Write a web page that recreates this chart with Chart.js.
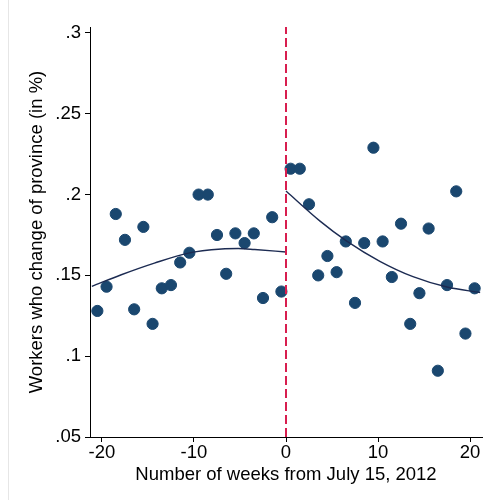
<!DOCTYPE html>
<html>
<head>
<meta charset="utf-8">
<script src="https://cdn.jsdelivr.net/npm/chart.js@4/dist/chart.umd.min.js"></script>
<style>
  html, body { margin:0; padding:0; background:#fff; }
  #wrap { width:493px; height:500px; }
</style>
</head>
<body>
<div id="wrap"><canvas id="c" width="493" height="500"></canvas></div>
<script>
// ── Data ──────────────────────────────────────────────
const leftWeeks  = [-20.5,-19.5,-18.5,-17.5,-16.5,-15.5,-14.5,-13.5,-12.5,-11.5,-10.5,-9.5,-8.5,-7.5,-6.5,-5.5,-4.5,-3.5,-2.5,-1.5,-0.5];
const leftShare  = [0.128,0.143,0.188,0.172,0.129,0.180,0.120,0.142,0.144,0.158,0.164,0.200,0.200,0.175,0.151,0.176,0.170,0.176,0.136,0.186,0.140];
const rightWeeks = [0.5,1.5,2.5,3.5,4.5,5.5,6.5,7.5,8.5,9.5,10.5,11.5,12.5,13.5,14.5,15.5,16.5,17.5,18.5,19.5,20.5];
const rightShare = [0.216,0.216,0.194,0.150,0.162,0.152,0.171,0.133,0.170,0.229,0.171,0.149,0.182,0.120,0.139,0.179,0.091,0.144,0.202,0.114,0.142];

// quadratic fit lines
const fitLeftX  = [-21.1,-17.9,-14.3,-10.6,-7.0,-5.2,-3.4,0];
const fitLeftY  = [0.1432,0.1504,0.1576,0.1638,0.1663,0.1666,0.1660,0.1645];
const fitRightX = [0,3.7,6.6,10.2,13.8,17.5,21.1];
const fitRightY = [0.2022,0.1836,0.1712,0.1587,0.1492,0.1428,0.1394];

const cutoffWeek = 0;
const xTicks = [-20,-10,0,10,20];
const yTicks = [0.05,0.1,0.15,0.2,0.25,0.3];

const X_MIN = -21.3, X_MAX = 21.3, Y_MIN = 0.05, Y_MAX = 0.3037;

const pts = (xs, ys) => xs.map((x,i) => ({ x, y: ys[i] }));
const fmtY = v => String(+v.toFixed(2)).replace(/^0/, '');

const FONT = { family: '"Liberation Sans", Arial, sans-serif', size: 18.5 };

// faint frame edge seen at the left of the reference
const frameEdge = {
    id: 'frameEdge',
    beforeDraw(chart) {
        const ctx = chart.ctx;
        ctx.save();
        ctx.strokeStyle = '#e6e6e6';
        ctx.lineWidth = 1;
        ctx.beginPath();
        ctx.moveTo(8.5, 0); ctx.lineTo(8.5, 500);
        ctx.stroke();
        ctx.restore();
    }
};

new Chart(document.getElementById('c'), {
    data: {
        datasets: [
            {
                type: 'line', label: 'fit left',
                data: pts(fitLeftX, fitLeftY),
                borderColor: '#1c2b52', borderWidth: 1.4,
                pointRadius: 0, cubicInterpolationMode: 'monotone', fill: false, order: 1
            },
            {
                type: 'line', label: 'fit right',
                data: pts(fitRightX, fitRightY),
                borderColor: '#1c2b52', borderWidth: 1.4,
                pointRadius: 0, cubicInterpolationMode: 'monotone', fill: false, order: 1
            },
            {
                type: 'scatter', label: 'before',
                data: pts(leftWeeks, leftShare),
                backgroundColor: '#1a476f', borderColor: '#1a476f',
                pointRadius: 5.6, pointHoverRadius: 5.6, order: 2
            },
            {
                type: 'scatter', label: 'after',
                data: pts(rightWeeks, rightShare),
                backgroundColor: '#1a476f', borderColor: '#1a476f',
                pointRadius: 5.6, pointHoverRadius: 5.6, order: 2
            },
            {
                type: 'line', label: 'cutoff',
                data: [{ x: cutoffWeek, y: Y_MIN }, { x: cutoffWeek, y: Y_MAX }],
                borderColor: '#d81e4f', borderWidth: 2, borderDash: [9, 4],
                pointRadius: 0, order: 0
            }
        ]
    },
    options: {
        responsive: false,
        animation: false,
        events: [],
        layout: { padding: { left: 26, right: 11, top: 27, bottom: 14 } },
        plugins: { legend: { display: false }, tooltip: { enabled: false } },
        scales: {
            x: {
                type: 'linear', min: X_MIN, max: X_MAX,
                afterBuildTicks: s => { s.ticks = xTicks.map(v => ({ value: v })); },
                afterFit: s => { s.height = 49; },
                grid: { display: true, drawOnChartArea: false, color: '#000', tickLength: 5 },
                border: { display: true, color: '#000', width: 1 },
                ticks: { color: '#000', font: FONT, padding: 0, maxRotation: 0 },
                title: { display: true, text: 'Number of weeks from July 15, 2012',
                         color: '#000', font: FONT, padding: 0 }
            },
            y: {
                type: 'linear', min: Y_MIN, max: Y_MAX,
                afterBuildTicks: s => { s.ticks = yTicks.map(v => ({ value: v })); },
                afterFit: s => { s.width = 64; },
                grid: { display: true, drawOnChartArea: false, color: '#000', tickLength: 5 },
                border: { display: true, color: '#000', width: 1 },
                ticks: { color: '#000', font: FONT, padding: 4, callback: v => fmtY(v) },
                title: { display: true, text: 'Workers who change of province (in %)',
                         color: '#000', font: FONT, padding: 0 }
            }
        }
    },
    plugins: [frameEdge]
});
</script>
</body>
</html>
